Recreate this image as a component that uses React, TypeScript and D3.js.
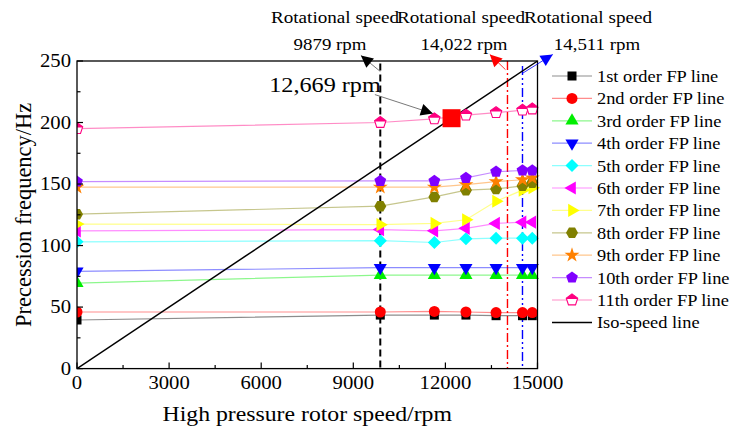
import * as d3 from "d3";
import React from "react";

// rotor speeds (rpm) where the FP lines were evaluated
const speeds = [0, 9879, 11640, 12669, 13650, 14511, 14830];

const order1 = [39.5, 43.5, 43.5, 43.5, 43, 43, 43];
const order2 = [46, 46, 46.5, 46, 45.5, 45.5, 45.5];
const order3 = [69.5, 76, 76, 76, 76, 76, 76];
const order4 = [79, 82, 82, 82, 82, 82, 82];
const order5 = [103, 104, 102.5, 105.5, 106, 106, 106];
const order6 = [112, 113, 112, 114, 118, 119, 119];
const order7 = [117.5, 117, 118, 121, 136, 145, 147];
const order8 = [125.5, 132, 139.5, 145, 146, 148.5, 151];
const order9 = [147.5, 147.5, 147.5, 149.5, 152, 153.5, 155];
const order10 = [152, 152.5, 152.5, 155, 160, 161, 161];
const order11 = [195, 200, 203, 206, 208, 210, 211];

const seriesNames = [
  "1st order FP line",
  "2nd order FP line",
  "3rd order FP line",
  "4th order FP line",
  "5th order FP line",
  "6th order FP line",
  "7th order FP line",
  "8th order FP line",
  "9th order FP line",
  "10th order FP line",
  "11th order FP line",
];
const seriesColors = [
  "#000000", "#ff0000", "#00ee00", "#0000ff", "#00ffff", "#ff00ff",
  "#ffff00", "#808000", "#ff8000", "#8000ff", "#ff0080",
];
const markerKinds = [
  "square", "circle", "up", "down", "diamond", "left",
  "right", "hexagon", "star", "pentagon", "halfPentagon",
];
const allSeries = [order1, order2, order3, order4, order5, order6, order7, order8, order9, order10, order11];

const xTicks = [0, 3000, 6000, 9000, 12000, 15000];
const yTicks = [0, 50, 100, 150, 200, 250];

// marked rotational speeds
const markedSpeeds = [9879, 14022, 14511];
const crossing = { rpm: 12200, hz: 203.5 };

const W = 730;
const H = 435;
const margin = { left: 77, right: 192.5, top: 61, bottom: 66.4 };
const FONT = "'Liberation Serif', 'Times New Roman', serif";

const x = d3.scaleLinear().domain([0, 15000]).range([margin.left, W - margin.right]);
const y = d3.scaleLinear().domain([0, 250]).range([H - margin.bottom, margin.top]);

function polygon(n: number, r: number, rot = -Math.PI / 2) {
  const pts = d3.range(n).map((i) => {
    const a = rot + (i * 2 * Math.PI) / n;
    return [r * Math.cos(a), r * Math.sin(a)];
  });
  return "M" + pts.map((p) => p.join(",")).join("L") + "Z";
}

// text stretched horizontally, the source picture is a bit wide
function T({ x, y, size, sx = 1.15, anchor = "start", children }: any) {
  return (
    <text transform={`translate(${x},${y}) scale(${sx},1)`} fontSize={size} textAnchor={anchor}>
      {children}
    </text>
  );
}

function Marker({ kind, color, cx, cy }: { kind: string; color: string; cx: number; cy: number }) {
  const t = `translate(${cx},${cy})`;
  const tri = d3.symbol(d3.symbolTriangle, 75)()!;
  switch (kind) {
    case "square":
      return <rect x={cx - 4.5} y={cy - 4.5} width={9} height={9} fill={color} />;
    case "circle":
      return <circle cx={cx} cy={cy} r={5.5} fill={color} />;
    case "up":
      return <path d={tri} transform={t} fill={color} />;
    case "down":
      return <path d={tri} transform={`${t} rotate(180)`} fill={color} />;
    case "left":
      return <path d={tri} transform={`${t} rotate(-90)`} fill={color} />;
    case "right":
      return <path d={tri} transform={`${t} rotate(90)`} fill={color} />;
    case "diamond":
      return <path d={polygon(4, 6.5, 0)} transform={t} fill={color} />;
    case "hexagon":
      return <path d={polygon(6, 6, 0)} transform={t} fill={color} />;
    case "star":
      return <path d={d3.symbol(d3.symbolStar, 70)()!} transform={t} fill={color} />;
    case "pentagon":
      return <path d={polygon(5, 6.2)} transform={t} fill={color} />;
    case "halfPentagon":
      return (
        <g transform={t}>
          <path d={polygon(5, 6)} fill="#fff" stroke={color} strokeWidth={1.1} />
          <path d={polygon(5, 6)} fill={color} clipPath="url(#halfTop)" />
        </g>
      );
  }
  return null;
}

function Arrow({ x1, y1, x2, y2, color, head }: { x1: number; y1: number; x2: number; y2: number; color: string; head: string }) {
  const ang = (Math.atan2(y2 - y1, x2 - x1) * 180) / Math.PI;
  return (
    <g>
      <line x1={x1} y1={y1} x2={x2} y2={y2} stroke={color} strokeWidth={0.8} />
      <path d="M0,0L-12,-6L-12,6Z" transform={`translate(${x2},${y2}) rotate(${ang})`} fill={head} />
    </g>
  );
}

export default function App() {
  const line = d3.line<number>().x((_, i) => x(speeds[i])).y((d) => y(d));
  const x0 = x(0);
  const x1 = x(15000);
  const y0 = y(0);
  const y1 = y(250);
  const legendX = 552;
  const legendY = 76;
  const legendStep = 22.4;

  return (
    <svg width={W} height={H} style={{ position: "absolute", left: 0, top: 0, background: "#fff" }} fontFamily={FONT}>
      <defs>
        <clipPath id="plotClip">
          <rect x={x0} y={y1 - 10} width={x1 - x0 + 8} height={y0 - y1 + 10} />
        </clipPath>
        <clipPath id="halfTop" clipPathUnits="objectBoundingBox">
          <rect x={0} y={0} width={1} height={0.45} />
        </clipPath>
      </defs>

      {/* marked speed lines */}
      <line x1={x(markedSpeeds[0])} x2={x(markedSpeeds[0])} y1={y(248)} y2={y0} stroke="#000" strokeWidth={2} strokeDasharray="7,4" />
      <line x1={x(markedSpeeds[1])} x2={x(markedSpeeds[1])} y1={y(250)} y2={y0} stroke="#ff0000" strokeWidth={1.4} strokeDasharray="9,3,2,3" />
      <line x1={x(markedSpeeds[2])} x2={x(markedSpeeds[2])} y1={y(246)} y2={y0} stroke="#0000ff" strokeWidth={1.4} strokeDasharray="9,3,2,3,2,3" />

      <g clipPath="url(#plotClip)">
        {allSeries.map((s, i) => (
          <path key={"l" + i} d={line(s)!} fill="none" stroke={seriesColors[i]} strokeOpacity={0.45} strokeWidth={1.2} />
        ))}
        <line x1={x(0)} y1={y(0)} x2={x(15000)} y2={y(250)} stroke="#000" strokeWidth={1.5} />
        {allSeries.map((s, i) =>
          s.map((v, j) => <Marker key={`m${i}-${j}`} kind={markerKinds[i]} color={seriesColors[i]} cx={x(speeds[j])} cy={y(v)} />)
        )}
      </g>

      <rect x={x(crossing.rpm) - 9} y={y(crossing.hz) - 9} width={18} height={18} fill="#ff0000" />

      {/* axes box */}
      <rect x={x0} y={y1} width={x1 - x0} height={y0 - y1} fill="none" stroke="#000" strokeWidth={1.3} />
      {d3.range(0, 15001, 1500).map((t) => (
        <line key={"xt" + t} x1={x(t)} x2={x(t)} y1={y0} y2={y0 - (t % 3000 === 0 ? 6 : 3.5)} stroke="#000" strokeWidth={1.2} />
      ))}
      {d3.range(0, 251, 25).map((t) => (
        <line key={"yt" + t} x1={x0} x2={x0 + (t % 50 === 0 ? 6 : 3.5)} y1={y(t)} y2={y(t)} stroke="#000" strokeWidth={1.2} />
      ))}
      {xTicks.map((t) => (
        <T key={"xl" + t} x={x(t)} y={y0 + 20} size={18} anchor="middle">{t}</T>
      ))}
      {yTicks.map((t) => (
        <T key={"yl" + t} x={x0 - 6} y={y(t) + 6} size={18} anchor="end">{t}</T>
      ))}
      <T x={(x0 + x1) / 2} y={H - 14} size={22} sx={1.08} anchor="middle">High pressure rotor speed/rpm</T>
      <text transform={`translate(31,${(y0 + y1) / 2}) rotate(-90)`} textAnchor="middle" fontSize={22.5}>Precession frequency/Hz</text>

      {/* annotations */}
      <T x={335} y={23} size={16.5} sx={1.16} anchor="middle">Rotational speed</T>
      <T x={461} y={23} size={16.5} sx={1.16} anchor="middle">Rotational speed</T>
      <T x={588} y={23} size={16.5} sx={1.16} anchor="middle">Rotational speed</T>
      <T x={330} y={50} size={16} sx={1.18} anchor="middle">9879 rpm</T>
      <T x={464} y={50} size={16} sx={1.18} anchor="middle">14,022 rpm</T>
      <T x={597} y={50} size={16} sx={1.18} anchor="middle">14,511 rpm</T>
      <T x={325} y={92} size={22} sx={1.1} anchor="middle">12,669 rpm</T>
      <Arrow x1={x(markedSpeeds[0])} y1={y(241.5)} x2={x(9247)} y2={y(254.5)} color="#555" head="#000" />
      <Arrow x1={x(markedSpeeds[1]) - 2} y1={y(243)} x2={x(13447)} y2={y(255.3)} color="#ff0000" head="#ff0000" />
      <Arrow x1={x(markedSpeeds[2])} y1={y(240)} x2={x(15498)} y2={y(255.3)} color="#0000ff" head="#0000ff" />
      <Arrow x1={x(9703)} y1={y(222.7)} x2={x(11591)} y2={y(207.3)} color="#555" head="#000" />

      {/* legend */}
      {seriesNames.map((n, i) => {
        const ly = legendY + i * legendStep;
        return (
          <g key={"lg" + i}>
            <line x1={legendX} x2={legendX + 40} y1={ly} y2={ly} stroke={seriesColors[i]} strokeOpacity={0.45} strokeWidth={1.2} />
            <Marker kind={markerKinds[i]} color={seriesColors[i]} cx={legendX + 20} cy={ly} />
            <T x={legendX + 45} y={ly + 6} size={17.5} sx={1.05}>{n}</T>
          </g>
        );
      })}
      <line x1={legendX} x2={legendX + 40} y1={legendY + 11 * legendStep} y2={legendY + 11 * legendStep} stroke="#000" strokeWidth={1.5} />
      <T x={legendX + 45} y={legendY + 11 * legendStep + 6} size={17.5} sx={1.05}>Iso-speed line</T>
    </svg>
  );
}
